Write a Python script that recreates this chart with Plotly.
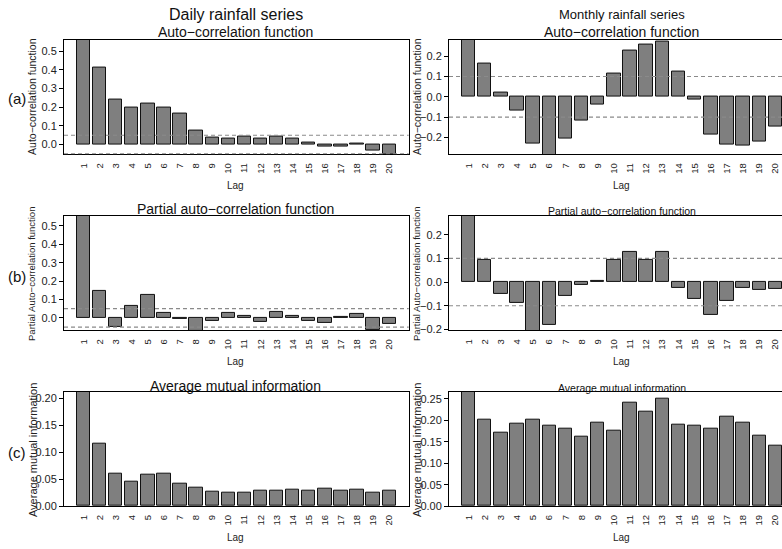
import plotly.graph_objects as go

# ---- data -------------------------------------------------------------
lags = list(range(1, 21))
lag_labels = [str(k) for k in lags]

daily_acf = [0.57, 0.412, 0.241, 0.199, 0.217, 0.199, 0.165, 0.077, 0.037, 0.033,
             0.044, 0.032, 0.044, 0.030, 0.011, -0.010, -0.010, 0.005, -0.034, -0.052]
monthly_acf = [0.29, 0.163, 0.021, -0.070, -0.230, -0.29, -0.207, -0.119, -0.038, 0.113,
               0.228, 0.256, 0.274, 0.122, -0.015, -0.184, -0.233, -0.238, -0.220, -0.144]

daily_pacf = [0.56, 0.148, -0.052, 0.065, 0.122, 0.025, -0.005, -0.07, -0.015, 0.025,
              0.010, -0.022, 0.032, 0.010, -0.018, -0.027, 0.004, 0.020, -0.065, -0.035]
monthly_pacf = [0.29, 0.092, -0.050, -0.088, -0.21, -0.180, -0.059, -0.010, 0.004, 0.095,
                0.126, 0.093, 0.128, -0.024, -0.073, -0.138, -0.080, -0.025, -0.033, -0.029]

daily_ami = [0.22, 0.116, 0.060, 0.046, 0.058, 0.060, 0.042, 0.034, 0.026, 0.025,
             0.025, 0.029, 0.028, 0.030, 0.028, 0.032, 0.029, 0.030, 0.025, 0.029]
monthly_ami = [0.27, 0.201, 0.171, 0.193, 0.202, 0.188, 0.180, 0.163, 0.194, 0.175,
               0.242, 0.220, 0.250, 0.191, 0.188, 0.180, 0.208, 0.194, 0.164, 0.142]

daily_ci = 0.05     # significance bound, daily series
monthly_ci = 0.10   # significance bound, monthly series

# ---- layout helpers ---------------------------------------------------
W, H = 782, 549
FONT = "Liberation Sans, Arial, Helvetica, sans-serif"
BAR_FILL = "#7f7f7f"
DASH_COL = "#8a8a8a"


def px_x(x):
    return x / W


def px_y(y):
    return 1 - y / H


left_dom = [px_x(64), px_x(408.7)]
right_dom = [px_x(449), 1.0]
rows = [(40, 156), (218.3, 334), (396, 511.7)]

panels = [
    # (values, side, row, yrange, tickvals, tickformat, ci)
    (daily_acf, "L", 0, [-0.052, 0.562], [0, 0.1, 0.2, 0.3, 0.4, 0.5], ".1f", daily_ci),
    (monthly_acf, "R", 0, [-0.283, 0.282], [-0.2, -0.1, 0, 0.1, 0.2], ".1f", monthly_ci),
    (daily_pacf, "L", 1, [-0.068, 0.554], [0, 0.1, 0.2, 0.3, 0.4, 0.5], ".1f", daily_ci),
    (monthly_pacf, "R", 1, [-0.204, 0.280], [-0.2, -0.1, 0, 0.1, 0.2], ".1f", monthly_ci),
    (daily_ami, "L", 2, [0, 0.212], [0, 0.05, 0.10, 0.15, 0.20], ".2f", None),
    (monthly_ami, "R", 2, [0, 0.267], [0, 0.05, 0.10, 0.15, 0.20, 0.25], ".2f", None),
]

fig = go.Figure()
layout = {}
shapes = []

for i, (vals, side, row, yr, tv, tf, ci) in enumerate(panels, start=1):
    xa = "x" if i == 1 else f"x{i}"
    ya = "y" if i == 1 else f"y{i}"
    fig.add_trace(go.Bar(
        x=lags, y=vals, xaxis=xa, yaxis=ya, width=0.833,
        marker=dict(color=BAR_FILL, line=dict(color="#111111", width=1)),
        showlegend=False, hoverinfo="x+y",
    ))
    top, bot = rows[row]
    xdom = left_dom if side == "L" else right_dom
    xrange = [-0.21, 21.21] if side == "L" else [-0.21, 20.41]
    layout["xaxis" if i == 1 else f"xaxis{i}"] = dict(
        domain=xdom, anchor=ya, range=xrange,
        tickmode="array", tickvals=lags, ticktext=lag_labels,
        tickangle=-90, ticks="", ticklabelstandoff=4,
        tickfont=dict(size=9.5, color="#222", family=FONT),
        showline=True, linecolor="black", linewidth=1, mirror=True,
        showgrid=False, zeroline=False, fixedrange=True,
    )
    layout["yaxis" if i == 1 else f"yaxis{i}"] = dict(
        domain=[px_y(bot), px_y(top)], anchor=xa, range=yr,
        tickmode="array", tickvals=tv, tickformat=tf,
        ticks="outside", ticklen=4, tickcolor="black", tickwidth=1,
        tickfont=dict(size=11, color="#222", family=FONT),
        showline=True, linecolor="black", linewidth=1,
        mirror=(side == "L"),
        showgrid=False, zeroline=False, fixedrange=True,
    )
    if ci is not None:
        for level in (ci, -ci):
            shapes.append(dict(
                type="line", xref=f"{xa} domain", yref=ya,
                x0=0, x1=1, y0=level, y1=level, layer="above",
                line=dict(color=DASH_COL, width=1.2, dash="4px,3px"),
            ))

# ---- text -------------------------------------------------------------
ann = []


def text(x, y, s, size, angle=0, color="#111"):
    ann.append(dict(
        x=px_x(x), y=px_y(y), xref="paper", yref="paper", text=s,
        showarrow=False, textangle=angle, xanchor="center", yanchor="middle",
        font=dict(size=size, color=color, family=FONT),
    ))


LC, RC = 236, 621.5

text(LC, 15, "Daily rainfall series", 16)
text(RC, 15, "Monthly rainfall series", 13)

text(LC, 32, "Auto\u2212correlation function", 14)
text(RC, 32, "Auto\u2212correlation function", 14)
text(LC, 211, "Partial auto\u2212correlation function", 14)
text(RC, 213, "Partial auto\u2212correlation function", 10.5)
text(LC, 390, "Average mutual information", 14)
text(RC, 392, "Average mutual information", 10.5)

for yl in (188, 365, 543):
    text(LC, yl, "Lag", 10, color="#222")
    text(RC, yl, "Lag", 10, color="#222")

text(32, 98, "Auto\u2212correlation function", 10.5, -90, "#222")
text(417, 98, "Auto\u2212correlation function", 10.5, -90, "#222")
text(32, 277, "Partial Auto\u2212correlation function", 9.5, -90, "#222")
text(417, 277, "Partial Auto\u2212correlation function", 9.5, -90, "#222")
text(33, 455, "Average mutual information", 11, -90, "#222")
text(417, 455, "Average mutual information", 11, -90, "#222")

text(17, 100, "(a)", 15)
text(17, 280, "(b)", 15)
text(17, 457, "(c)", 15)

fig.update_layout(
    width=W, height=H, margin=dict(l=0, r=0, t=0, b=0),
    paper_bgcolor="white", plot_bgcolor="white",
    annotations=ann, shapes=shapes, bargap=0,
    **layout,
)

fig.write_html("out.html")
